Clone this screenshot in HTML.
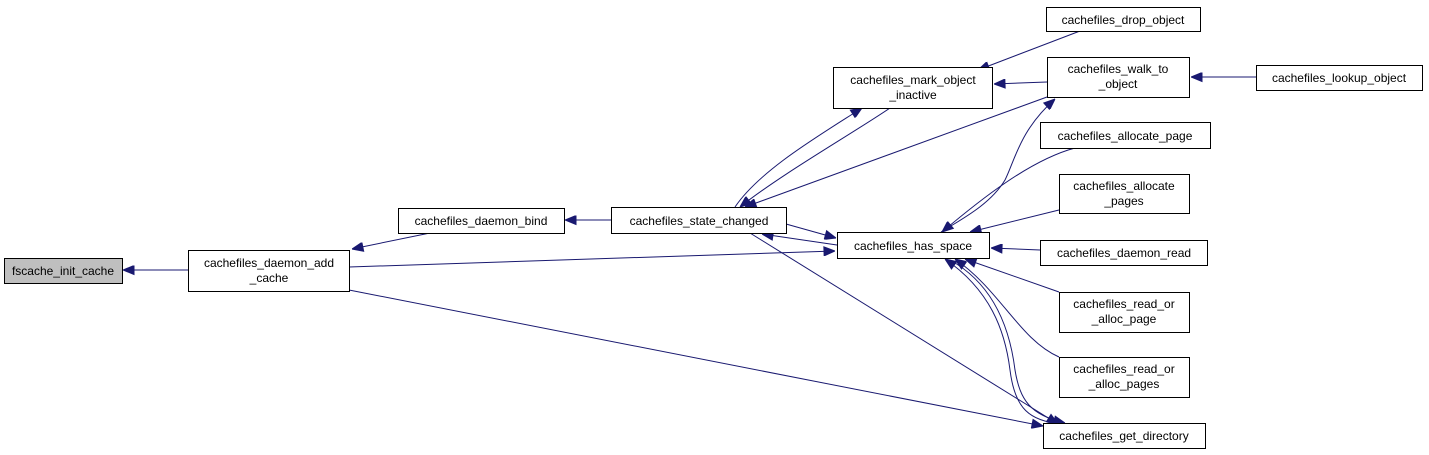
<!DOCTYPE html>
<html><head><meta charset="utf-8"><style>
html,body{margin:0;padding:0;background:#fff;}
svg{display:block;}
text{font-family:"Liberation Sans",sans-serif;font-size:12px;fill:#000;text-anchor:middle;}
rect{fill:#fff;stroke:#000;stroke-width:1;}
path.e{fill:none;stroke:#191970;stroke-width:1;}
</style></head><body>
<svg width="1429" height="455" viewBox="0 0 1429 455">
<defs><marker id="a" markerWidth="12" markerHeight="10" refX="0" refY="4.5" orient="auto" markerUnits="userSpaceOnUse"><path d="M0,4.5 L11,0 L11,9 Z" fill="#191970" stroke="#191970"/></marker></defs>
<path class="e" marker-start="url(#a)" d="M123,270 L188,270"/>
<path class="e" marker-start="url(#a)" d="M352,249 L430,233"/>
<path class="e" marker-start="url(#a)" d="M565,220 L611,220"/>
<path class="e" marker-start="url(#a)" d="M740,207 C780,175 850,135 890,108"/>
<path class="e" marker-start="url(#a)" d="M862,108 C820,135 760,170 735,207"/>
<path class="e" marker-start="url(#a)" d="M745,207 L1047,97"/>
<path class="e" marker-start="url(#a)" d="M762,234 L837,245"/>
<path class="e" marker-start="url(#a)" d="M836,238 L786,224"/>
<path class="e" marker-start="url(#a)" d="M835,251 L349,267"/>
<path class="e" marker-start="url(#a)" d="M1043,426 L349,290"/>
<path class="e" marker-start="url(#a)" d="M1058,424 L750,233"/>
<path class="e" marker-start="url(#a)" d="M978,70 L1080,31"/>
<path class="e" marker-start="url(#a)" d="M994,84 L1047,82"/>
<path class="e" marker-start="url(#a)" d="M1191,77 L1256,77"/>
<path class="e" marker-start="url(#a)" d="M1055,99 C1020,130 1015,160 1005,180 C990,205 960,220 941,232"/>
<path class="e" marker-start="url(#a)" d="M942,232 C980,200 1030,160 1075,148"/>
<path class="e" marker-start="url(#a)" d="M970,232 L1059,210"/>
<path class="e" marker-start="url(#a)" d="M991,248 L1040,250"/>
<path class="e" marker-start="url(#a)" d="M965,259 L1059,292"/>
<path class="e" marker-start="url(#a)" d="M955,259 C1000,290 1020,340 1059,357"/>
<path class="e" marker-start="url(#a)" d="M945,259 C990,290 1005,330 1010,370 C1015,410 1030,420 1060,424"/>
<path class="e" marker-start="url(#a)" d="M1065,423 C1030,415 1020,400 1015,370 C1010,330 995,285 950,260"/>
<rect x="4.5" y="258.5" width="118" height="25" style="fill:#bfbfbf"/><text x="63" y="275">fscache_init_cache</text>
<rect x="188.5" y="250.5" width="161" height="41"/><text x="269" y="267">cachefiles_daemon_add</text><text x="269" y="282">_cache</text>
<rect x="398.5" y="208.5" width="166" height="25"/><text x="481" y="225">cachefiles_daemon_bind</text>
<rect x="611.5" y="207.5" width="175" height="26"/><text x="699" y="225">cachefiles_state_changed</text>
<rect x="833.5" y="67.5" width="159" height="41"/><text x="913" y="84">cachefiles_mark_object</text><text x="913" y="99">_inactive</text>
<rect x="1046.5" y="7.5" width="154" height="24"/><text x="1123" y="24">cachefiles_drop_object</text>
<rect x="1047.5" y="57.5" width="142" height="40"/><text x="1118" y="73">cachefiles_walk_to</text><text x="1118" y="88">_object</text>
<rect x="1256.5" y="65.5" width="166" height="25"/><text x="1339" y="82">cachefiles_lookup_object</text>
<rect x="1040.5" y="122.5" width="170" height="26"/><text x="1125" y="140">cachefiles_allocate_page</text>
<rect x="1059.5" y="174.5" width="130" height="39"/><text x="1124" y="190">cachefiles_allocate</text><text x="1124" y="205">_pages</text>
<rect x="837.5" y="232.5" width="152" height="26"/><text x="913" y="250">cachefiles_has_space</text>
<rect x="1040.5" y="240.5" width="167" height="25"/><text x="1124" y="257">cachefiles_daemon_read</text>
<rect x="1059.5" y="292.5" width="130" height="40"/><text x="1124" y="308">cachefiles_read_or</text><text x="1124" y="323">_alloc_page</text>
<rect x="1059.5" y="357.5" width="130" height="40"/><text x="1124" y="373">cachefiles_read_or</text><text x="1124" y="388">_alloc_pages</text>
<rect x="1043.5" y="423.5" width="162" height="25"/><text x="1124" y="440">cachefiles_get_directory</text>
</svg>
</body></html>
